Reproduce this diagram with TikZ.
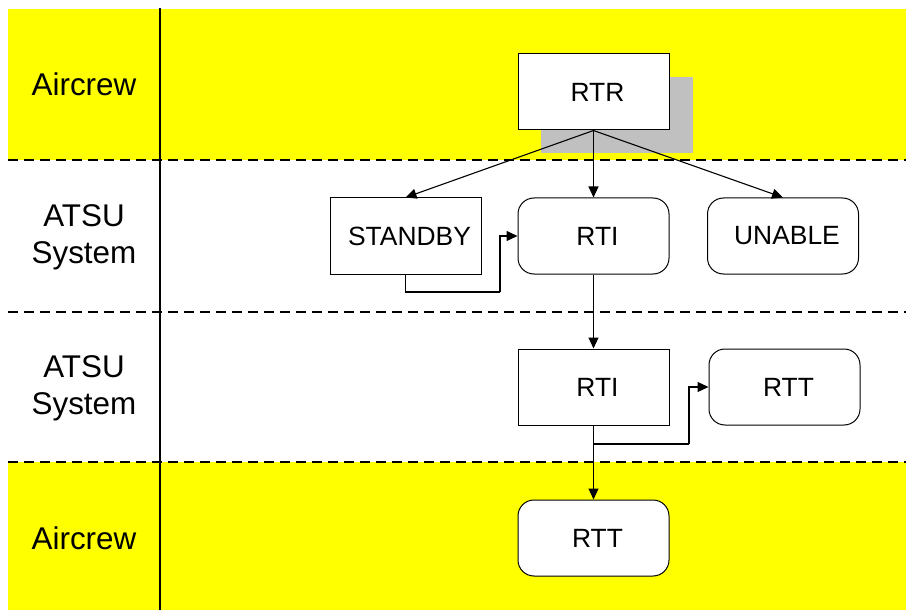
\documentclass[tikz,border=0pt]{standalone}
\usepackage{fontspec}
\setmainfont{Liberation Sans}
\usetikzlibrary{arrows.meta}
\definecolor{laneyellow}{RGB}{255,255,0}
\definecolor{shadowgrey}{RGB}{192,192,192}
\begin{document}
\begin{tikzpicture}[x=0.5pt,y=-0.5pt,
  box/.style={draw=black,line width=0.5pt,fill=white,minimum width=75.5pt,minimum height=38pt,inner sep=0pt,font=\fontsize{13.2pt}{15pt}\selectfont,execute at begin node={\hspace*{4pt}}},
  rbox/.style={box,rounded corners=8pt},
  lanelabel/.style={align=center,font=\fontsize{15.7pt}{18.5pt}\selectfont},
  lanesep/.style={line width=1.1pt,dash pattern=on 5pt off 3pt},
  arr/.style={line width=0.55pt,-{Triangle[length=5.5pt,width=5pt]}},
  link/.style={line width=0.55pt}]
\useasboundingbox (0,0) rectangle (906,610);
\fill[white] (0,0) rectangle (906,610);
% lanes
\fill[laneyellow] (8,9) rectangle (906,160);
\fill[laneyellow] (8,462) rectangle (906,610);
\draw[lanesep] (8,160) -- (906,160);
\draw[lanesep] (8,312) -- (906,312);
\draw[lanesep] (8,462) -- (906,462);
\draw[line width=1.1pt] (160,8) -- (160,610);
% lane labels
\node[lanelabel] (l1) at (84,84) {Aircrew};
\node[lanelabel] (l2) at (84,237) {ATSU\\System};
\node[lanelabel] (l3) at (84,388) {ATSU\\System};
\node[lanelabel] (l4) at (84,538) {Aircrew};
% shadow
\fill[shadowgrey] (541,77) rectangle (693,153);
% boxes
\node[box]  (rtr)     at (593.5,92)  {RTR};
\node[box]  (standby) at (405.5,236) {STANDBY};
\node[rbox] (rti1)    at (593.5,236) {RTI};
\node[rbox] (unable)  at (783,236)   {UNABLE};
\node[box]  (rti2)    at (593.5,387) {RTI};
\node[rbox] (rtt1)    at (784.5,387) {RTT};
\node[rbox] (rtt2)    at (593.5,538) {RTT};
% connectors
\coordinate (j1) at (500,292);
\coordinate (j2) at (689,444);
\draw[arr] (rtr.south) -- (standby.north);
\draw[arr] (rtr.south) -- (rti1.north);
\draw[arr] (rtr.south) -- (unable.north);
\draw[link] (standby.south) |- (j1);
\draw[arr] (j1) |- (rti1.west);
\draw[arr] (rti1.south) -- (rti2.north);
\draw[link] (rti2.south) |- (j2);
\draw[arr] (j2) |- (rtt1.west);
\draw[arr] (rti2.south) -- (rtt2.north);
\end{tikzpicture}
\end{document}
